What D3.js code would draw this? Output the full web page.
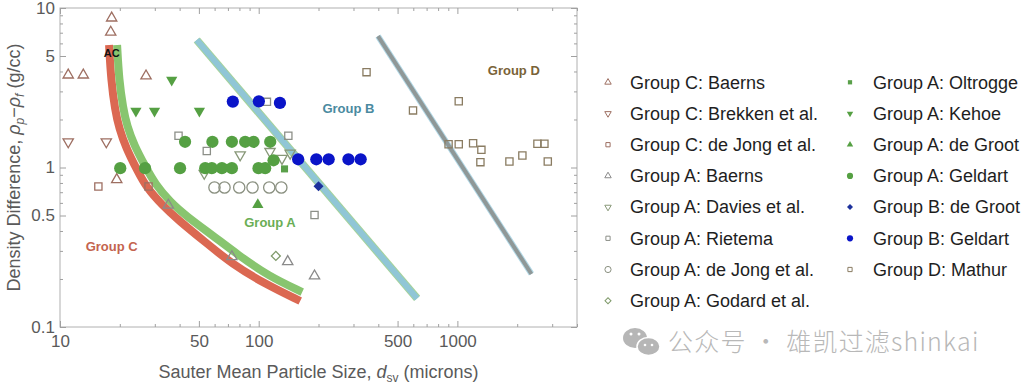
<!DOCTYPE html>
<html>
<head>
<meta charset="utf-8">
<script src="https://cdn.jsdelivr.net/npm/d3@7"></script>
<style>
  body { margin: 0; background: #fff; }
  svg { display: block; font-family: "Liberation Sans", Arial, sans-serif; }
</style>
</head>
<body>
<svg id="chart" width="1024" height="384"></svg>
<script>
// values: [Sauter mean size (microns), density difference (g/cc)]
const cBaerns = [[11.0, 3.8], [13.1, 3.8], [18.2, 8.65], [18.0, 7.05], [27.1, 3.75], [19.3, 0.84]];
const cBrekken = [[11.0, 1.45], [17.1, 1.45]];
const cDeJong = [[15.6, 0.76], [27.9, 0.76]];
const aBaerns = [[35.1, 0.58], [73.3, 0.276], [140, 0.257], [191, 0.209]];
const aDavies = [[53.2, 0.92], [80.7, 1.2], [114, 1.26], [131, 1.14], [144, 1.23]];
const aRietema = [[39.5, 1.58], [54.8, 1.27], [110, 2.58], [141, 1.58], [191, 0.504]];
const aDeJong = [[59.9, 0.75], [67.3, 0.75], [79.8, 0.75], [93.1, 0.75], [113, 0.75], [130, 0.75]];
const aGodard = [[122, 0.279]];
const aOltrogge = [[134.9, 0.98], [68.6, 1.0]];
const aKehoe = [[36.5, 3.54], [24.1, 2.26], [29.9, 2.26], [50.3, 2.26]];
const aDeGroot = [[99, 0.585]];
const aGeldart = [[42.6, 1.45], [58.5, 1.45], [73.3, 1.45], [85.5, 1.45], [94.2, 1.45], [114.3, 1.45],
  [20.1, 0.99], [26.8, 0.99], [40.2, 0.99], [53.8, 0.99], [58.1, 0.99], [65.3, 0.99], [73.3, 0.99],
  [99.8, 0.99], [107.8, 0.99], [118.8, 1.11]];
const bDeGroot = [[200, 0.764]];
const bGeldart = [[74.1, 2.59], [100.2, 2.6], [127.9, 2.54], [158, 1.126], [195, 1.126], [225, 1.126], [283, 1.126], [326, 1.126]];
const dMathur = [[349, 3.96], [598, 2.28], [1016, 2.6], [903, 1.4], [1016, 1.4], [1200, 1.42], [1321, 1.29],
  [1306, 1.08], [1828, 1.09], [2124, 1.19], [2529, 1.41], [2742, 1.41], [2851, 1.09]];

// group boundaries
const caRed = [[17.66, 5.86], [18.07, 3.54], [18.93, 2.29], [19.83, 1.77], [21.5, 1.325], [24.43, 0.964],
  [27.12, 0.755], [32.65, 0.582], [39.3, 0.469], [53.77, 0.341], [73.55, 0.248], [107.8, 0.186], [161.8, 0.1456]];
const caGreen = [[19.38, 5.86], [19.83, 3.54], [20.77, 2.36], [21.75, 1.82], [23.59, 1.384], [26.81, 1.022],
  [30.1, 0.788], [35.83, 0.608], [43.14, 0.497], [58.32, 0.377], [78.82, 0.283], [111.7, 0.209], [165.6, 0.1657]];
const abLine = [[48.8, 6.3], [627, 0.151]];
const bdLine = [[398.6, 6.67], [2359, 0.215]];

const xDomain = [10, 4000];
const yDomain = [0.1, 10];
const xMajor = [10, 50, 100, 500, 1000];
const yMajor = [0.1, 0.5, 1, 5, 10];

const svg = d3.select("#chart");
const plotLeft = 60, plotRight = 577, plotTop = 8, plotBottom = 327;

const x = d3.scaleLog().domain(xDomain).range([plotLeft, plotRight]);
const y = d3.scaleLog().domain(yDomain).range([plotBottom, plotTop]);

const isMajor = (list, d) => list.some(m => Math.abs(m - d) / m < 1e-6);

// frame
svg.append("rect")
  .attr("x", plotLeft).attr("y", plotTop)
  .attr("width", plotRight - plotLeft).attr("height", plotBottom - plotTop)
  .attr("fill", "none").attr("stroke", "#b0b0b0");

// axes, ticks pointing inward on all four sides
const xt = x.ticks();
const yt = y.ticks();

const gx = svg.append("g").attr("transform", `translate(0,${plotBottom})`)
  .call(d3.axisBottom(x).tickValues(xt).tickSize(-4).tickPadding(8)
    .tickFormat(d => isMajor(xMajor, d) ? String(d) : ""));
gx.selectAll(".tick line").attr("y2", d => isMajor(xMajor, d) ? -6 : -3);

const gxTop = svg.append("g").attr("transform", `translate(0,${plotTop})`)
  .call(d3.axisTop(x).tickValues(xt).tickFormat(""));
gxTop.selectAll(".tick line").attr("y2", d => isMajor(xMajor, d) ? 6 : 3);

const gy = svg.append("g").attr("transform", `translate(${plotLeft},0)`)
  .call(d3.axisLeft(y).tickValues(yt).tickSize(-4).tickPadding(5)
    .tickFormat(d => isMajor(yMajor, d) ? String(+d.toPrecision(3)) : ""));
gy.selectAll(".tick line").attr("x2", d => isMajor(yMajor, d) ? 6 : 3);

const gyRight = svg.append("g").attr("transform", `translate(${plotRight},0)`)
  .call(d3.axisRight(y).tickValues(yt).tickFormat(""));
gyRight.selectAll(".tick line").attr("x2", d => isMajor(yMajor, d) ? -6 : -3);

[gx, gxTop, gy, gyRight].forEach(g => {
  g.select(".domain").remove();
  g.selectAll(".tick line").attr("stroke", "#a0a0a0");
  g.selectAll(".tick text").attr("fill", "#5a5a5a").style("font-size", "17px")
    .style("font-family", "'Liberation Sans', Arial, sans-serif");
});

// axis titles
const xTitle = svg.append("text")
  .attr("x", (plotLeft + plotRight) / 2).attr("y", 378)
  .attr("text-anchor", "middle").attr("fill", "#5a5a5a").style("font-size", "18px");
xTitle.append("tspan").text("Sauter Mean Particle Size, ");
xTitle.append("tspan").attr("font-style", "italic").text("d");
xTitle.append("tspan").attr("dy", 4).style("font-size", "12px").text("sv");
xTitle.append("tspan").attr("dy", -4).text(" (microns)");

const yTitle = svg.append("text")
  .attr("transform", `translate(20,${(plotTop + plotBottom) / 2}) rotate(-90)`)
  .attr("text-anchor", "middle").attr("fill", "#5a5a5a").style("font-size", "18px");
yTitle.append("tspan").text("Density Difference, ");
yTitle.append("tspan").attr("font-style", "italic").text("ρ");
yTitle.append("tspan").attr("dy", 4).style("font-size", "12px").attr("font-style", "italic").text("p");
yTitle.append("tspan").attr("dy", -4).text("−");
yTitle.append("tspan").attr("font-style", "italic").text("ρ");
yTitle.append("tspan").attr("dy", 4).style("font-size", "12px").attr("font-style", "italic").text("f");
yTitle.append("tspan").attr("dy", -4).text(" (g/cc)");

// boundary lines
const line = d3.line().x(d => x(d[0])).y(d => y(d[1]));
const curve = d3.line().x(d => x(d[0])).y(d => y(d[1])).curve(d3.curveBasis);

svg.append("path").attr("d", curve(caRed)).attr("fill", "none")
  .attr("stroke", "#db6852").attr("stroke-width", 8);
svg.append("path").attr("d", curve(caGreen)).attr("fill", "none")
  .attr("stroke", "#88c56f").attr("stroke-width", 8);

svg.append("path").attr("d", line(abLine)).attr("fill", "none")
  .attr("stroke", "#a6d39a").attr("stroke-width", 8);
svg.append("path").attr("d", line(abLine)).attr("fill", "none")
  .attr("stroke", "#90c6d6").attr("stroke-width", 6);

svg.append("path").attr("d", line(bdLine)).attr("fill", "none")
  .attr("stroke", "#b2d8e6").attr("stroke-width", 6);
svg.append("path").attr("d", line(bdLine)).attr("fill", "none")
  .attr("stroke", "#8f9898").attr("stroke-width", 4);

// region labels
const labels = [
  {t: "AC", d: 18.2, v: 5.2, c: "#111", s: 11},
  {t: "Group C", d: 18.2, v: 0.318, c: "#c4644f", s: 13},
  {t: "Group A", d: 114, v: 0.455, c: "#6aae55", s: 13},
  {t: "Group B", d: 283, v: 2.35, c: "#4a8aa0", s: 13},
  {t: "Group D", d: 1923, v: 4.05, c: "#7a6338", s: 13}
];
svg.selectAll("text.region").data(labels).join("text")
  .attr("class", "region")
  .attr("x", d => x(d.d)).attr("y", d => y(d.v))
  .attr("dy", "0.35em").attr("text-anchor", "middle")
  .attr("font-weight", "bold").style("font-size", d => d.s + "px")
  .attr("fill", d => d.c).text(d => d.t);

// marker shapes
function shapePath(shape, size) {
  const type = {triUp: d3.symbolTriangle, triDown: d3.symbolTriangle, square: d3.symbolSquare,
    circle: d3.symbolCircle, diamond: d3.symbolSquare}[shape];
  return d3.symbol(type, size)();
}
function shapeRotate(shape) {
  return shape === "triDown" ? 180 : shape === "diamond" ? 45 : 0;
}

const brown = "#9e6f62";
const series = [
  {name: "Group C: Baerns", data: cBaerns, shape: "triUp", filled: false, color: brown, size: 46},
  {name: "Group C: Brekken et al.", data: cBrekken, shape: "triDown", filled: false, color: brown, size: 46},
  {name: "Group C: de Jong et al.", data: cDeJong, shape: "square", filled: false, color: brown, size: 52},
  {name: "Group A: Baerns", data: aBaerns, shape: "triUp", filled: false, color: "#8a8a8a", size: 46},
  {name: "Group A: Davies et al.", data: aDavies, shape: "triDown", filled: false, color: "#889878", size: 46},
  {name: "Group A: Rietema", data: aRietema, shape: "square", filled: false, color: "#8c8f88", size: 52},
  {name: "Group A: de Jong et al.", data: aDeJong, shape: "circle", filled: false, color: "#8a9080", size: 100},
  {name: "Group A: Godard et al.", data: aGodard, shape: "diamond", filled: false, color: "#7f9a6a", size: 40},
  {name: "Group A: Oltrogge", data: aOltrogge, shape: "square", filled: true, color: "#5aa04a", size: 50},
  {name: "Group A: Kehoe", data: aKehoe, shape: "triDown", filled: true, color: "#55a043", size: 55},
  {name: "Group A: de Groot", data: aDeGroot, shape: "triUp", filled: true, color: "#55a043", size: 55},
  {name: "Group A: Geldart", data: aGeldart, shape: "circle", filled: true, color: "#55a043", size: 118},
  {name: "Group B: de Groot", data: bDeGroot, shape: "diamond", filled: true, color: "#1d319c", size: 50},
  {name: "Group B: Geldart", data: bGeldart, shape: "circle", filled: true, color: "#0a14c8", size: 118},
  {name: "Group D: Mathur", data: dMathur, shape: "square", filled: false, color: "#8a7c62", size: 52}
];

series.forEach(s => {
  svg.append("g").selectAll("path").data(s.data).join("path")
    .attr("d", shapePath(s.shape, s.size))
    .attr("transform", d => `translate(${x(d[0])},${y(d[1])}) rotate(${shapeRotate(s.shape)})`)
    .attr("fill", s.filled ? s.color : "none")
    .attr("stroke", s.filled ? "none" : s.color)
    .attr("stroke-width", 1.3);
});

// legend, two columns
const legend = svg.append("g");
series.forEach((s, i) => {
  const col = i < 8 ? 0 : 1;
  const row = i < 8 ? i : i - 8;
  const mx = col === 0 ? 608 : 850;
  const tx = col === 0 ? 630 : 873;
  const ry = 82.3 + row * 31.2;
  legend.append("path")
    .attr("d", shapePath(s.shape, s.shape === "circle" ? 30 : 18))
    .attr("transform", `translate(${mx},${ry}) rotate(${shapeRotate(s.shape)})`)
    .attr("fill", s.filled ? s.color : "none")
    .attr("stroke", s.filled ? "none" : s.color)
    .attr("stroke-width", 1);
  legend.append("text")
    .attr("x", tx).attr("y", ry).attr("dy", "0.35em")
    .attr("fill", "#1e1e1e").style("font-size", "18px")
    .text(s.name);
});

// watermark
const wm = svg.append("g");
wm.append("ellipse").attr("cx", 635).attr("cy", 338).attr("rx", 12).attr("ry", 10).attr("fill", "#b6b6b6");
wm.append("ellipse").attr("cx", 648.5).attr("cy", 346.5).attr("rx", 11.5).attr("ry", 9)
  .attr("fill", "#b6b6b6").attr("stroke", "#fff").attr("stroke-width", 1.5);
[[631, 334], [639, 334]].forEach(p => wm.append("circle").attr("cx", p[0]).attr("cy", p[1]).attr("r", 1.5).attr("fill", "#fff"));
[[645, 345], [652, 345]].forEach(p => wm.append("circle").attr("cx", p[0]).attr("cy", p[1]).attr("r", 1.3).attr("fill", "#fff"));
wm.append("text")
  .attr("x", 668).attr("y", 351)
  .attr("fill", "#b8b8b8")
  .style("font-family", "'Noto Sans CJK SC', sans-serif").style("font-size", "25px")
  .style("font-weight", "300")
  .style("letter-spacing", "1.2px")
  .text("公众号 · 雄凯过滤shinkai");
</script>
</body>
</html>
